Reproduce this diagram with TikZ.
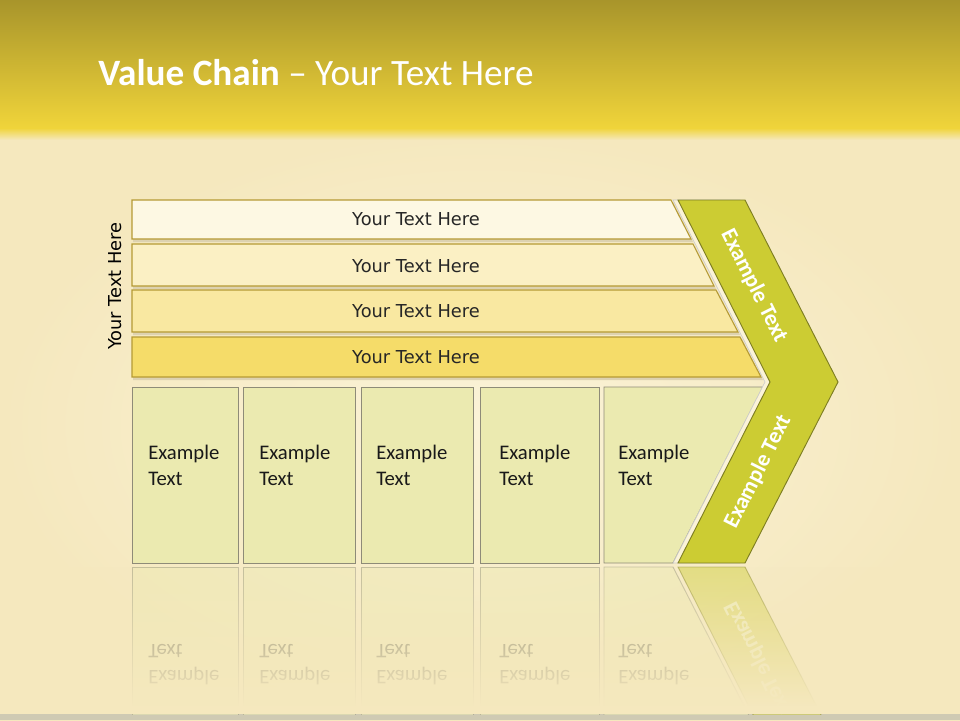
\documentclass[tikz,border=0pt]{standalone}
\usepackage{fontspec}
\setmainfont{Carlito}
\newfontfamily\barfont{DejaVu Sans}
\usepackage{tikz}
\usetikzlibrary{positioning, calc, fadings}
\definecolor{headtop}{HTML}{A8952B}
\definecolor{headbot}{HTML}{F0D43A}
\definecolor{paper}{HTML}{F5E8BE}
\definecolor{paperlight}{HTML}{FBF3D8}
\definecolor{footgray}{HTML}{CFCAB3}
\definecolor{barline}{HTML}{B59A34}
\definecolor{barshade}{HTML}{DDD2B0}
\definecolor{barone}{HTML}{FDF8E3}
\definecolor{bartwo}{HTML}{FBF0C4}
\definecolor{barthree}{HTML}{F9E8A1}
\definecolor{barfour}{HTML}{F5DC69}
\definecolor{cellfill}{HTML}{EBEAB0}
\definecolor{cellline}{HTML}{8E8B78}
\definecolor{chevfill}{HTML}{CCCC33}
\definecolor{chevline}{HTML}{7E7E22}
\tikzfading[name=fadedown, top color=transparent!100, bottom color=transparent!0]
\tikzset{
    barbox/.style={draw=barline, line width=0.8pt, fill=#1},
    barshadow/.style={fill=barshade},
    bartext/.style={font=\barfont\fontsize{13.4}{16}\selectfont, text=black!85},
    sidetext/.style={font=\barfont\fontsize{13.4}{16}\selectfont, text=black, rotate=90},
    cellbox/.style={draw=cellline, line width=0.7pt, fill=cellfill},
    celltext/.style={font=\fontsize{15.6}{19.5}\selectfont, align=left, anchor=west, inner sep=0pt, text=black!90},
    chevbox/.style={draw=chevline, line width=0.7pt, fill=chevfill},
    chevglow/.style={draw=black!20, line width=0.5pt, fill=paperlight},
    chevtext/.style={font=\bfseries\fontsize{17}{20}\selectfont, text=white},
    titletext/.style={font=\fontsize{28}{32}\selectfont, text=white, anchor=base west, inner sep=0pt}
}
\begin{document}
\begin{tikzpicture}[x=0.0264583cm, y=-0.0264583cm]
            \useasboundingbox (0,0) rectangle (960,720);
            \shade[inner color=paperlight, outer color=paper] (0,130) rectangle (960,720);
            \shade[top color=headtop, bottom color=headbot] (0,0) rectangle (960,128);
            \shade[top color=headbot, bottom color=paper] (0,128) rectangle (960,140);
            \fill[footgray] (0,714) rectangle (960,720);
            \node[titletext] (title) at (98,85) {\textbf{Value Chain} – Your Text Here};
            \begin{scope}
                \clip (0,566) rectangle (960,714);
                \begin{scope}[shift={(0,1130)}, yscale=-1, transform shape, opacity=0.45]
                    \draw[cellbox] (132,387) rectangle (238,563);
                    \draw[cellbox] (243,387) rectangle (355,563);
                    \draw[cellbox] (361,387) rectangle (473,563);
                    \draw[cellbox] (480,387) rectangle (599,563);
                    \draw[cellbox] (604,387) -- (763,387) -- (673,563) -- (604,563) -- cycle;
                    \draw[chevbox] (678,200) -- (745,200) -- (838,382) -- (745,563) -- (678,563) -- (770,382) -- cycle;
                    \node[celltext] (mcell1) at (148,465) {Example\\Text};
                    \node[celltext] (mcell2) at (259,465) {Example\\Text};
                    \node[celltext] (mcell3) at (376,465) {Example\\Text};
                    \node[celltext] (mcell4) at (499,465) {Example\\Text};
                    \node[celltext] (mcell5) at (618,465) {Example\\Text};
                    \node[chevtext, rotate=63.4] (mchevlow) at (758,472) {Example Text};
                \end{scope}
                \fill[paper, path fading=fadedown] (0,566) rectangle (960,706);
                \fill[paper] (0,706) rectangle (960,714);
            \end{scope}
            \fill[barshadow] (133,202) -- (673,202) -- (693,242) -- (133,242) -- cycle;
            \fill[barshadow] (133,246) -- (695,246) -- (716,289) -- (133,289) -- cycle;
            \fill[barshadow] (133,292) -- (718,292) -- (740,335) -- (133,335) -- cycle;
            \fill[barshadow] (133,339) -- (742,339) -- (763,380) -- (133,380) -- cycle;
            \draw[barbox=barone] (132,200) -- (671,200) -- (691,239) -- (132,239) -- cycle;
            \draw[barbox=bartwo] (132,244) -- (693,244) -- (714,286) -- (132,286) -- cycle;
            \draw[barbox=barthree] (132,290) -- (716,290) -- (738,332) -- (132,332) -- cycle;
            \draw[barbox=barfour] (132,337) -- (740,337) -- (761,377) -- (132,377) -- cycle;
            \node[bartext] (bar1) at (416,219) {Your Text Here};
            \node[bartext] (bar2) at (416,266) {Your Text Here};
            \node[bartext] (bar3) at (416,311) {Your Text Here};
            \node[bartext] (bar4) at (416,357) {Your Text Here};
            \node[sidetext] (side) at (115,286) {Your Text Here};
            \draw[cellbox] (132,387) rectangle (238,563);
            \draw[cellbox] (243,387) rectangle (355,563);
            \draw[cellbox] (361,387) rectangle (473,563);
            \draw[cellbox] (480,387) rectangle (599,563);
            \draw[cellbox] (604,387) -- (763,387) -- (673,563) -- (604,563) -- cycle;
            \node[celltext] (cell1) at (148,465) {Example\\Text};
            \node[celltext] (cell2) at (259,465) {Example\\Text};
            \node[celltext] (cell3) at (376,465) {Example\\Text};
            \node[celltext] (cell4) at (499,465) {Example\\Text};
            \node[celltext] (cell5) at (618,465) {Example\\Text};
            \draw[chevglow] (673,200) -- (740,200) -- (833,382) -- (740,563) -- (673,563) -- (765,382) -- cycle;
            \draw[chevbox] (678,200) -- (745,200) -- (838,382) -- (745,563) -- (678,563) -- (770,382) -- cycle;
            \node[chevtext, rotate=-63.4] (chevup) at (754,286) {Example Text};
            \node[chevtext, rotate=63.4] (chevlow) at (758,472) {Example Text};
        \end{tikzpicture}
\end{document}
